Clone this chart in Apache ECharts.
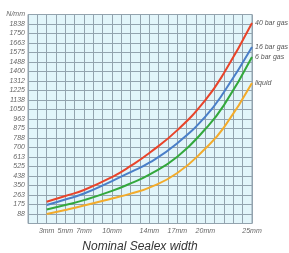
<!DOCTYPE html>
<html><head><meta charset="utf-8">
<script src="https://cdn.jsdelivr.net/npm/echarts@6/dist/echarts.min.js"></script>
<style>html,body{margin:0;padding:0;background:#fff}#c{width:289px;height:253px}</style>
</head><body><div id="c"></div>
<script>
var widths = [3, 5, 7, 10, 12, 14, 17, 20, 22, 25];
var bar40 = [201, 253, 309, 428, 530, 649, 860, 1137, 1386, 1847];
var bar16 = [170, 221, 276, 391, 474, 560, 740, 985, 1211, 1626];
var bar6 = [129, 170, 215, 300, 370, 450, 615, 870, 1090, 1534];
var liquid = [88, 125, 165, 230, 275, 330, 465, 690, 885, 1294];
var xTickValues = [3, 5, 7, 10, 14, 17, 20, 25];
var yTickLabels = ['', '88', '175', '263', '350', '438', '525', '613', '700', '788', '875', '963', '1050', '1138', '1225', '1312', '1400', '1488', '1575', '1663', '1750', '1838', 'N/mm'];
var seriesNames = ['40 bar gas', '16 bar gas', '6 bar gas', 'liquid'];
var seriesColors = ['#e8442a', '#4a7fc8', '#33a83c', '#f3ab2b'];
var seriesData = [bar40, bar16, bar6, liquid];

function pairs(arr) { return widths.map(function (w, i) { return [w, arr[i]]; }); }

var chart = echarts.init(document.getElementById('c'), null, {renderer: 'canvas'});
chart.setOption({
  animation: false,
  grid: {left: 28, right: 37, top: 14.5, bottom: 29.5, show: true, outerBoundsMode: 'none', containLabel: false,
    backgroundColor: '#e2f5fa', borderColor: '#93a3ae', borderWidth: 1},
  xAxis: {
    type: 'value', min: 1, max: 25, interval: 1,
    name: 'Nominal Sealex width', nameLocation: 'middle', nameGap: 17,
    nameTextStyle: {fontFamily: 'Liberation Sans', fontStyle: 'italic', fontSize: 12, color: '#333'},
    axisLine: {show: false}, axisTick: {show: false},
    splitLine: {show: true, lineStyle: {color: '#93a3ae', width: 1}},
    axisLabel: {customValues: xTickValues, formatter: function (v) { return v + 'mm'; },
      fontFamily: 'Liberation Sans', fontStyle: 'italic', fontSize: 7, color: '#666', margin: 4}
  },
  yAxis: {
    type: 'value', min: 0, max: 1925, interval: 87.5,
    axisLine: {show: false}, axisTick: {show: false},
    splitLine: {show: true, lineStyle: {color: '#93a3ae', width: 1}},
    axisLabel: {formatter: function (v) { return yTickLabels[Math.round(v / 87.5)]; },
      fontFamily: 'Liberation Sans', fontStyle: 'italic', fontSize: 7, color: '#666', margin: 3}
  },
  series: seriesData.map(function (d, i) {
    return {
      type: 'line', name: seriesNames[i], data: pairs(d), smooth: true, showSymbol: false,
      lineStyle: {color: seriesColors[i], width: 2}, itemStyle: {color: seriesColors[i]},
      endLabel: {show: true, formatter: '{a}', fontFamily: 'Liberation Sans', fontStyle: 'italic', fontSize: 7, color: '#555', distance: 3}
    };
  })
});
</script></body></html>
